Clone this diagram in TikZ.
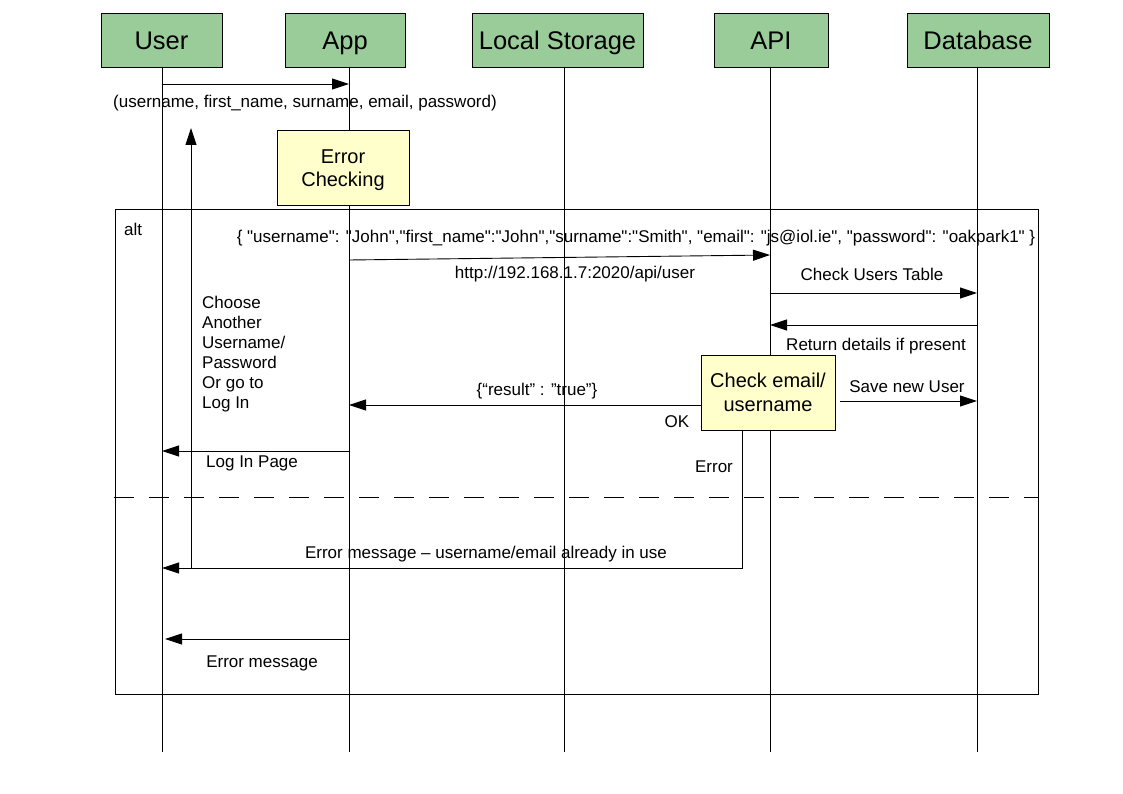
\documentclass[tikz,border=0pt]{standalone}
\usepackage{fontspec}
\setmainfont{Liberation Sans}[Ligatures=TeXOff]
\usetikzlibrary{arrows.meta}
\definecolor{headgreen}{RGB}{153,204,153}
\definecolor{noteyellow}{RGB}{255,255,204}
\begin{document}
\begin{tikzpicture}[x=1pt,y=-1pt,
  head/.style={draw=black,line width=0.9pt,fill=headgreen,minimum height=54pt,inner sep=0pt,text height=21pt,text depth=2pt,font=\fontsize{25.5}{30}\selectfont},
  note/.style={draw=black,line width=0.9pt,fill=noteyellow,inner sep=0pt,align=center,font=\fontsize{20}{23.5}\selectfont},
  notetext/.style={inner sep=0pt,align=center,font=\fontsize{20}{23.5}\selectfont},
  life/.style={line width=0.9pt},
  msg/.style={line width=0.9pt,-{Triangle[length=17pt,width=11pt]}},
  lbl/.style={font=\fontsize{17}{20}\selectfont,inner sep=0pt},
  frame/.style={line width=0.9pt}]
\useasboundingbox (0,0) rectangle (1123,794);
% headers
\node[head,minimum width=121pt] (user) at (161.5,40) {User};
\node[head,minimum width=120pt] (app) at (345,40) {App};
\node[head,minimum width=171pt] (ls) at (557.5,40) {Local Storage};
\node[head,minimum width=114pt] (api) at (771,40) {API};
\node[head,minimum width=142pt] (db) at (978,40) {Database};
% lifeline coordinates
\coordinate (U) at (162,67);   \coordinate (Ub) at (162,752);
\coordinate (A) at (349,67);   \coordinate (Ab) at (349,752);
\coordinate (L) at (564,67);   \coordinate (Lb) at (564,752);
\coordinate (P) at (770,67);   \coordinate (Pb) at (770,752);
\coordinate (D) at (977,67);   \coordinate (Db) at (977,752);
\draw[life] (U) -- (Ub);
\draw[life] (A) -- (Ab);
\draw[life] (L) -- (Lb);
\draw[life] (P) -- (Pb);
\draw[life] (D) -- (Db);
% alt frame
\draw[frame] (115,209) rectangle (1038,694);
\node[lbl,anchor=west] (alt) at (124,229) {alt};
\coordinate (dl) at (114,497); \coordinate (dr) at (1038,497);
\draw[frame,dash pattern=on 20pt off 15pt] (dl) -- (dr);
% notes
\node[note,minimum width=132pt,minimum height=75pt] (ec) at (343,167.5) {};
\node[notetext] (ectxt) at ([yshift=-2.5pt]ec.center) {Error\\Checking};
\node[note,minimum width=134pt,minimum height=75pt] (chk) at (768,392.5) {Check email/\\username};
% message 1
\draw[msg] (U |- 0,84) -- (A |- 0,84);
\node[lbl] (m1) at (305,103) {(username, first\_name, surname, email, password)};
% message 3
\coordinate (m3s) at (349,260); \coordinate (m3e) at (770,255);
\draw[msg] (m3s) -- (m3e);
\node[lbl] (json) at (636,238) {\{ "username": "John","first\_name":"John","surname":"Smith", "email": "js@iol.ie", "password": "oakpark1" \}};
\node[lbl] (url) at (575,274) {http://192.168.1.7:2020/api/user};
% API <-> DB
\draw[msg] (P |- 0,293) -- (D |- 0,293);
\node[lbl] (cut) at (872,274) {Check Users Table};
\draw[msg] (D |- 0,325) -- (P |- 0,325);
\node[lbl] (rdp) at (876,346) {Return details if present};
\coordinate (sv) at (840,401);
\draw[msg] (sv) -- (D |- sv);
\node[lbl] (snu) at (907,387) {Save new User};
% result true
\draw[msg] (chk.west |- 0,405) -- (A |- 0,405);
\node[lbl] (res) at (537,391) {\{“result” : ”true”\}};
\node[lbl] (ok) at (677,422) {OK};
% choose another
\node[lbl,anchor=north west,align=left] (choose) at (202,296) {Choose\\Another\\Username/\\Password\\Or go to\\Log In};
% log in page
\draw[msg] (A |- 0,451) -- (U |- 0,451);
\node[lbl,anchor=west] (lip) at (206,463) {Log In Page};
% error path
\coordinate (e1) at (742,568);
\draw[msg] (chk.south -| e1) -- (e1) -- (U |- e1);
\node[lbl] (err) at (714,467) {Error};
\node[lbl] (emsg) at (486,554) {Error message – username/email already in use};
% vertical return
\coordinate (v0) at (191,568); \coordinate (v1) at (191,128);
\draw[msg] (v0) -- (v1);
% final error message
\coordinate (fe) at (165,639);
\draw[msg] (A |- fe) -- (fe);
\node[lbl] (em2) at (262,663) {Error message};
\end{tikzpicture}
\end{document}
